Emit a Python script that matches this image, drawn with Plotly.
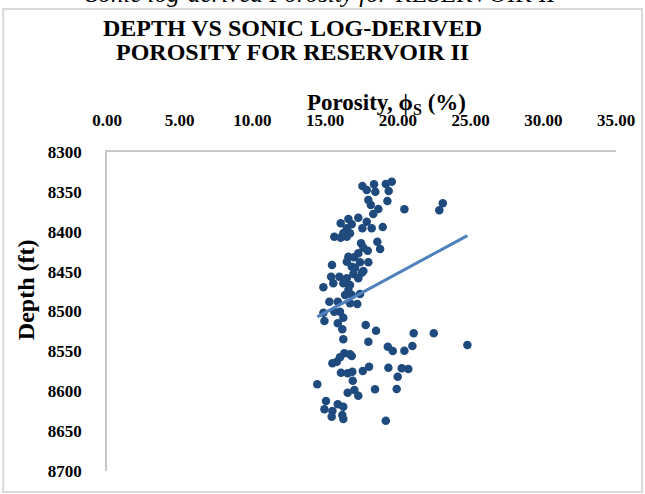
import plotly.graph_objects as go

# Sonic log-derived porosity (%) and depth (ft)
porosity = [
    17.56, 18.36, 19.17, 19.58, 17.86, 18.45, 19.37, 17.97, 19.28, 18.14,
    18.66, 20.45, 18.31, 16.60, 17.28, 17.86, 16.07, 16.83, 16.49, 17.56,
    18.20, 18.96, 16.25, 16.71, 15.63, 16.07, 16.49, 18.59, 17.47, 17.63,
    17.93, 18.78, 17.28, 16.60, 16.99, 16.49, 17.40, 17.97, 15.47, 16.83,
    17.06, 17.63, 23.09, 22.85, 15.41, 15.98, 16.94, 17.52, 17.28, 16.49,
    15.56, 16.25, 16.71, 14.88, 16.60, 16.37, 16.83, 17.40, 15.29, 15.87,
    16.71, 17.21, 15.63, 16.02, 14.88, 14.95, 16.25, 15.87, 16.18, 17.79,
    18.50, 21.09, 22.47, 16.25, 17.97, 21.00, 19.31, 19.65, 20.45, 24.78,
    16.32, 16.71, 16.02, 15.80, 15.50, 16.83, 18.02, 19.35, 20.27, 20.72,
    16.09, 16.55, 16.87, 17.59, 19.99, 16.90, 14.46, 16.55, 17.01, 17.28,
    18.43, 19.92, 15.06, 15.87, 16.25, 14.95, 15.50, 15.45, 16.18, 16.25,
    19.17,
]
depth = [
    8342.6, 8340.5, 8340.1, 8337.2, 8347.6, 8349.8, 8348.9, 8360.2, 8361.4, 8366.5,
    8371.5, 8371.8, 8377.7, 8384.0, 8382.4, 8387.4, 8389.4, 8390.7, 8395.7, 8395.7,
    8395.7, 8394.0, 8401.9, 8401.9, 8406.2, 8407.5, 8406.2, 8412.5, 8414.5, 8420.0,
    8423.8, 8421.6, 8427.0, 8431.3, 8432.0, 8437.6, 8438.3, 8438.3, 8441.7, 8443.8,
    8445.1, 8449.2, 8364.3, 8373.1, 8456.4, 8456.4, 8453.0, 8451.3, 8458.4, 8458.4,
    8464.6, 8464.6, 8466.8, 8469.7, 8473.0, 8479.3, 8479.3, 8478.1, 8487.7, 8487.7,
    8489.7, 8490.6, 8500.3, 8500.3, 8501.5, 8511.9, 8507.8, 8514.8, 8522.3, 8516.9,
    8524.1, 8527.3, 8527.3, 8534.9, 8537.9, 8543.3, 8544.1, 8549.5, 8549.2, 8542.0,
    8552.4, 8553.7, 8557.4, 8563.0, 8565.0, 8555.8, 8569.2, 8570.5, 8571.2, 8572.1,
    8576.7, 8577.5, 8575.5, 8574.6, 8581.8, 8586.8, 8591.3, 8601.8, 8598.4, 8605.6,
    8597.6, 8597.2, 8612.2, 8616.4, 8619.4, 8622.6, 8624.8, 8631.9, 8629.8, 8634.8,
    8636.9,
]

# Linear trendline as shown in the chart (depth = slope * porosity + intercept)
trend_slope = -9.87
trend_intercept = 8649.4

x_ticks = [0, 5, 10, 15, 20, 25, 30, 35]
y_ticks = [8300, 8350, 8400, 8450, 8500, 8550, 8600, 8650, 8700]

title_line1 = "DEPTH VS SONIC LOG-DERIVED"
title_line2 = "POROSITY FOR RESERVOIR II"
caption = "<i>Sonic log-derived Porosity for</i> RESERVOIR II"
x_title = "Porosity, ϕ<sub>S</sub> (%)"
y_title = "Depth (ft)"

trend_x = [min(porosity), max(porosity)]
trend_y = [trend_slope * v + trend_intercept for v in trend_x]

SERIF = "Liberation Serif, Times New Roman, serif"

fig = go.Figure()
fig.add_trace(go.Scatter(
    x=porosity, y=depth, mode="markers",
    marker=dict(color="#1F4A7D", size=8.5),
    showlegend=False, hoverinfo="skip",
))
fig.add_trace(go.Scatter(
    x=trend_x, y=trend_y, mode="lines",
    line=dict(color="#4F81BD", width=3),
    showlegend=False, hoverinfo="skip",
))

fig.update_layout(
    width=645, height=494, autosize=False,
    margin=dict(l=107, r=29, t=152, b=23),
    paper_bgcolor="white", plot_bgcolor="white",
    xaxis=dict(
        side="top", range=[0, 35], tickvals=x_ticks, tickformat=".2f",
        showgrid=False, zeroline=False, showline=True, automargin=False,
        linecolor="#C8C8C8", linewidth=1.5, ticks="",
        ticklabelstandoff=17,
        tickfont=dict(family=SERIF, size=17, color="black", weight="bold"),
    ),
    yaxis=dict(
        range=[8700, 8300], tickvals=y_ticks, automargin=False,
        showgrid=False, zeroline=False, showline=True,
        linecolor="#C8C8C8", linewidth=1.5, ticks="",
        ticklabelstandoff=20,
        tickfont=dict(family=SERIF, size=17, color="black", weight="bold"),
    ),
    shapes=[dict(
        type="rect", xref="paper", yref="paper",
        x0=-0.204, x1=1.051, y0=-0.066, y1=1.448,
        line=dict(color="#D9D9D9", width=2), fillcolor="rgba(0,0,0,0)",
        layer="below",
    )],
    annotations=[
        dict(text=caption, xref="paper", yref="paper", x=0.42, y=1.447,
             xanchor="center", yanchor="bottom", showarrow=False,
             font=dict(family=SERIF, size=25, color="black")),
        dict(text="<b>" + title_line1 + "</b>", xref="paper", yref="paper",
             x=0.3635, y=1.390, xanchor="center", yanchor="middle", showarrow=False,
             font=dict(family=SERIF, size=24, color="black")),
        dict(text="<b>" + title_line2 + "</b>", xref="paper", yref="paper",
             x=0.3635, y=1.313, xanchor="center", yanchor="middle", showarrow=False,
             font=dict(family=SERIF, size=24, color="black")),
        dict(text="<b>" + x_title + "</b>", xref="paper", yref="paper",
             x=0.550, y=1.150, xanchor="center", yanchor="middle", showarrow=False,
             font=dict(family=SERIF, size=23, color="black")),
        dict(text="<b>" + y_title + "</b>", xref="paper", yref="paper",
             x=-0.159, y=0.567, xanchor="center", yanchor="middle", textangle=-90,
             showarrow=False,
             font=dict(family=SERIF, size=24, color="black")),
    ],
)

fig.write_html("out.html", config={"displayModeBar": False},
               post_script="document.body.style.margin='0';")
